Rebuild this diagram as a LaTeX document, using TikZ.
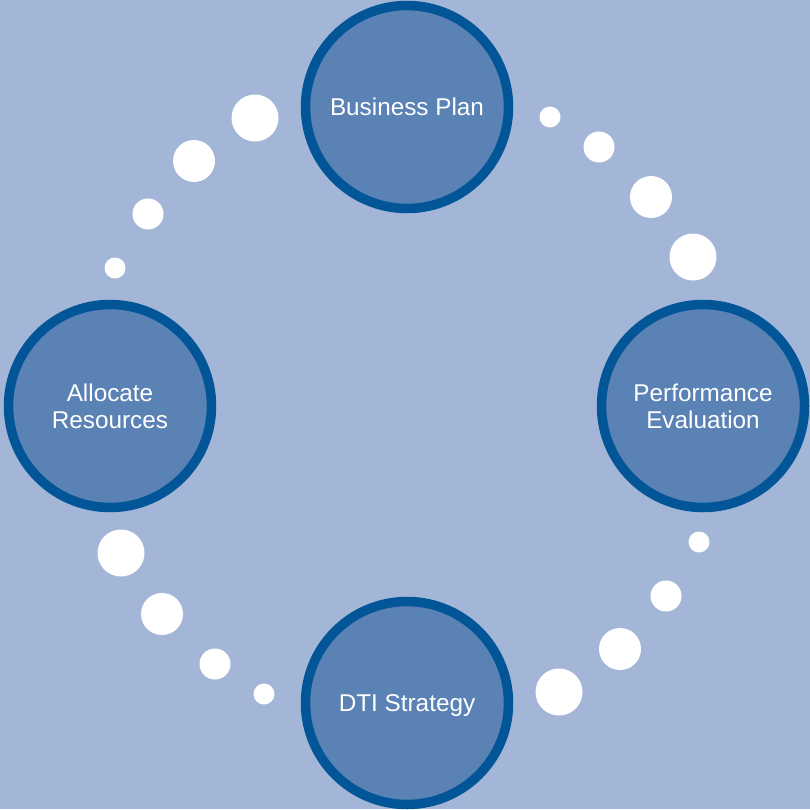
\documentclass[tikz,border=0pt]{standalone}
\usepackage{fontspec}
\setmainfont{Liberation Sans}
\definecolor{bgc}{RGB}{164,182,215}
\definecolor{fillc}{RGB}{90,130,181}
\definecolor{edgec}{RGB}{2,86,152}
\begin{document}
\begin{tikzpicture}[x=1pt,y=-1pt,
  stage/.style={circle,draw=edgec,line width=9.5pt,fill=fillc,minimum size=203pt,inner sep=0pt,
    text=white,align=center,font=\fontsize{24.3}{26.8}\selectfont},
  bubble/.style={circle,fill=white,inner sep=0pt,draw=none}]
\fill[bgc] (0,0) rectangle (810,809);
\useasboundingbox (0,0) rectangle (810,809);
\node[stage] (bp) at (407,107) {Business Plan};
\node[stage] (pe) at (703,406) {Performance\\Evaluation};
\node[stage,text depth=0pt] (dti) at (407,703) {DTI Strategy};
\node[stage] (ar) at (110,406) {Allocate\\Resources};
% top-left
\node[bubble,minimum size=47pt] (a1) at (255,118) {};
\node[bubble,minimum size=42pt] (a2) at (194,161) {};
\node[bubble,minimum size=31pt] (a3) at (148,214) {};
\node[bubble,minimum size=21pt] (a4) at (115,268) {};
% top-right
\node[bubble,minimum size=21pt] (b1) at (550,117) {};
\node[bubble,minimum size=31pt] (b2) at (599,147) {};
\node[bubble,minimum size=42pt] (b3) at (651,197) {};
\node[bubble,minimum size=47pt] (b4) at (693,257) {};
% bottom-right
\node[bubble,minimum size=21pt] (c1) at (699,542) {};
\node[bubble,minimum size=31pt] (c2) at (666,596) {};
\node[bubble,minimum size=42pt] (c3) at (620,649) {};
\node[bubble,minimum size=47pt] (c4) at (559,692) {};
% bottom-left
\node[bubble,minimum size=47pt] (d1) at (121,553) {};
\node[bubble,minimum size=42pt] (d2) at (162,614) {};
\node[bubble,minimum size=31pt] (d3) at (215,664) {};
\node[bubble,minimum size=21pt] (d4) at (264,694) {};
\end{tikzpicture}
\end{document}
